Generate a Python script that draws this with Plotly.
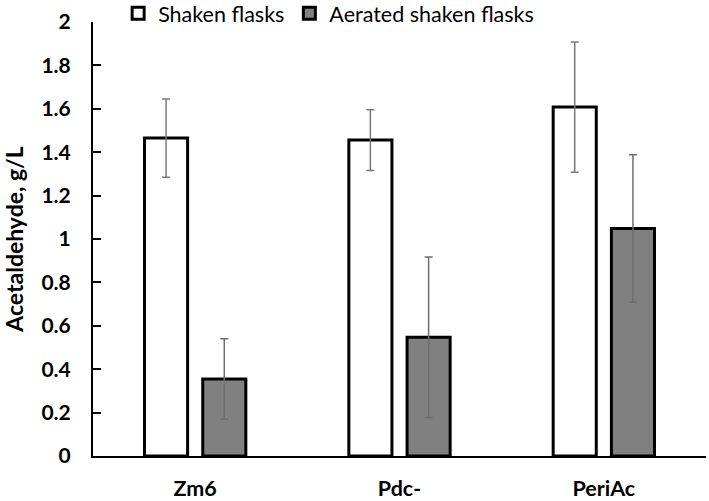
import plotly.graph_objects as go

categories = ["Zm6", "Pdc-", "PeriAc"]
shaken = [1.465, 1.456, 1.608]
shaken_err = [0.18, 0.14, 0.30]
aerated = [0.355, 0.547, 1.048]
aerated_err = [0.185, 0.37, 0.34]
y_ticks = [0, 0.2, 0.4, 0.6, 0.8, 1, 1.2, 1.4, 1.6, 1.8, 2]
y_tick_labels = ["0", "0.2", "0.4", "0.6", "0.8", "1", "1.2", "1.4", "1.6", "1.8", "2"]

FONT = "Lato, 'Open Sans', sans-serif"

fig = go.Figure()
fig.add_trace(go.Bar(
    name="Shaken flasks", x=categories, y=shaken,
    marker=dict(color="white", line=dict(color="black", width=3)),
    error_y=dict(type="data", array=shaken_err, color="#7a7a7a", thickness=1.5, width=4),
))
fig.add_trace(go.Bar(
    name="Aerated shaken flasks", x=categories, y=aerated,
    marker=dict(color="#808080", line=dict(color="black", width=3)),
    error_y=dict(type="data", array=aerated_err, color="#6e6e6e", thickness=1.5, width=4),
))

fig.update_layout(
    width=709, height=501,
    margin=dict(l=93, r=3, t=22, b=45, autoexpand=False),
    paper_bgcolor="white", plot_bgcolor="white",
    barmode="group", bargap=0.43, bargroupgap=0.26,
    font=dict(family=FONT, color="black"),
    showlegend=True,
    legend=dict(orientation="h", x=0.041, y=1.02, xanchor="left", yanchor="middle",
                font=dict(size=21.5, family=FONT), itemwidth=30,
                bgcolor="rgba(0,0,0,0)", tracegroupgap=0),
)
fig.update_yaxes(
    range=[0, 2], tickvals=y_ticks, ticktext=y_tick_labels,
    showgrid=False, zeroline=False,
    showline=True, linecolor="black", linewidth=2,
    ticks="inside", ticklen=8, tickwidth=2, tickcolor="black",
    tickfont=dict(size=21, family=FONT, weight="bold"),
    ticklabelstandoff=16,
    title=dict(text="<b>Acetaldehyde, g/L</b>", font=dict(size=23, family=FONT), standoff=16),
)
fig.update_xaxes(
    showgrid=False, zeroline=False,
    showline=True, linecolor="black", linewidth=2,
    ticks="", tickfont=dict(size=21.5, family=FONT, weight="bold"),
    ticklabelstandoff=12,
)

fig.write_html("out.html", config={"displayModeBar": False},
               post_script="document.body.style.margin='0px';")
